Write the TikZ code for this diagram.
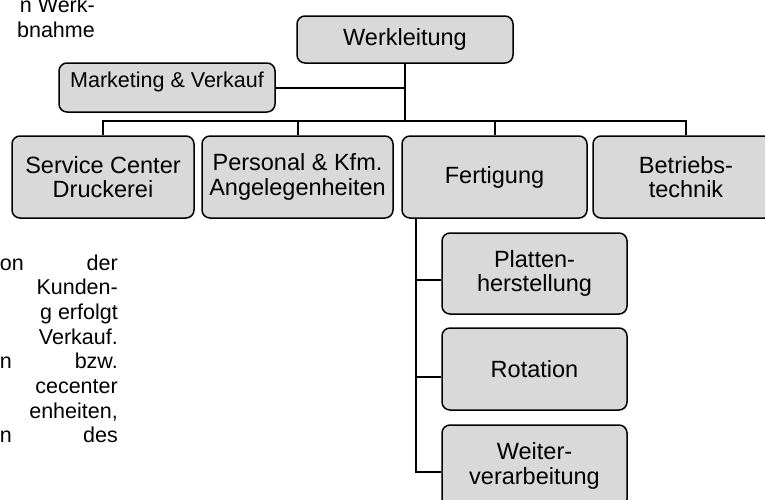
\documentclass[tikz,border=0pt]{standalone}
\usepackage{fontspec}
\setmainfont{Liberation Sans}
\usetikzlibrary{calc}
\definecolor{boxgray}{RGB}{217,217,217}
\begin{document}
\begin{tikzpicture}[x=1pt,y=-1pt,
  box/.style={draw=black, line width=1.5pt, rounded corners=8pt, fill=boxgray,
    align=center, inner sep=0pt, font=\fontsize{23.5}{24.5}\selectfont},
  conn/.style={line width=2pt},
  para/.style={anchor=base east, inner sep=0pt, font=\fontsize{21.5}{24.7}\selectfont}]
\useasboundingbox (0,0) rectangle (765,499);
\clip (0,0) rectangle (765,499);

% paragraph fragments
\node[para] (t1) at (95,12.5) {n Werk-};
\node[para] (t2) at (95,37) {bnahme};
\node[para] (p1) at (118,270) {\makebox[118pt][s]{on\hfill der}};
\node[para] (p2) at (118,294.7) {Kunden-};
\node[para] (p3) at (118,319.4) {g erfolgt};
\node[para] (p4) at (118,344.1) {Verkauf.};
\node[para] (p5) at (118,368.8) {\makebox[118pt][s]{n\hfill bzw.}};
\node[para] (p6) at (118,393.5) {cecenter};
\node[para] (p7) at (118,418.2) {enheiten,};
\node[para] (p8) at (118,442.9) {\makebox[118pt][s]{n\hfill des}};

% boxes
\node[box, minimum width=216pt, minimum height=47pt] (wl) at (405,39.5) {Werkleitung};
\node[box, minimum width=216pt, font=\fontsize{21.5}{24}\selectfont,
      text height=24pt, text depth=25pt] (mv) at (167,87.5) {Marketing \& Verkauf};
\node[box, minimum width=182pt, minimum height=82pt] (sc) at (103,177) {Service Center\\Druckerei};
\node[box, minimum width=191pt, minimum height=82pt] (pk) at (297.5,177) {Personal \& Kfm.\\Angelegenheiten};
\node[box, minimum width=185pt, minimum height=82pt] (fe) at (494.5,177) {Fertigung};
\node[box, minimum width=186pt, minimum height=82pt] (bt) at (686,177) {Betriebs-\\technik};
\node[box, minimum width=185pt, minimum height=81pt] (pl) at (534.5,273.5) {Platten-\\herstellung};
\node[box, minimum width=185pt, minimum height=82pt] (ro) at (534.5,369) {Rotation};
\node[box, minimum width=185pt, minimum height=82pt] (wv) at (534.5,466) {Weiter-\\verarbeitung};

% connectors
\coordinate (bus) at (405,121);
\draw[conn] (wl.south) -- (bus);
\draw[conn] (mv.east) -- (mv.east -| bus);
\draw[conn] (sc.north) -- (sc.north |- bus) -- (bt.north |- bus) -- (bt.north);
\draw[conn] (pk.north) -- (pk.north |- bus);
\draw[conn] (fe.north) -- (fe.north |- bus);
\coordinate (fv) at ($(fe.south west)+(15,0)$);
\draw[conn] (fv) |- ($(pl.west)+(0,6.5)$);
\draw[conn] (fv) |- ($(ro.west)+(0,8)$);
\draw[conn] (fv) |- ($(wv.west)+(0,6)$);
\end{tikzpicture}
\end{document}
